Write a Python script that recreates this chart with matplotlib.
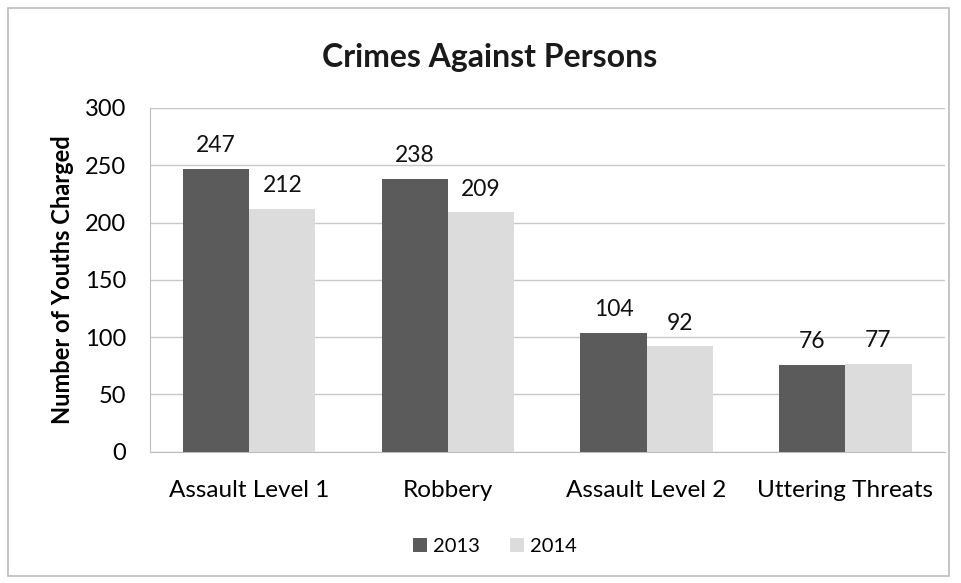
import matplotlib
matplotlib.use("Agg")
import matplotlib.pyplot as plt
import numpy as np
from matplotlib.patches import Rectangle

categories = ["Assault Level 1", "Robbery", "Assault Level 2", "Uttering Threats"]
series_names = ["2013", "2014"]
values_2013 = [247, 238, 104, 76]
values_2014 = [212, 209, 92, 77]
yticks = [0, 50, 100, 150, 200, 250, 300]

plt.rcParams['font.family'] = ['Lato', 'DejaVu Sans']

fig = plt.figure(figsize=(9.61, 5.83), dpi=100)
ax = fig.add_axes([0.156, 0.225, 0.827, 0.59])

x = np.arange(len(categories))
w = 1/3
c13 = "#5b5b5b"
c14 = "#dcdcdc"
b1 = ax.bar(x - w/2, values_2013, w, color=c13, label=series_names[0], zorder=3)
b2 = ax.bar(x + w/2, values_2014, w, color=c14, label=series_names[1], zorder=3)

for bars, vals in ((b1, values_2013), (b2, values_2014)):
    for r, v in zip(bars, vals):
        ax.annotate(str(v), (r.get_x() + r.get_width()/2, v), xytext=(0, 9),
                    textcoords='offset points', ha='center', va='bottom',
                    fontsize=16.5, color='#111111')

ax.set_xlim(-0.5, len(categories) - 0.5)
ax.set_ylim(0, 300)
ax.set_yticks(yticks)
ax.set_yticklabels([str(t) for t in yticks], fontsize=17)
ax.set_xticks(x)
ax.set_xticklabels(categories, fontsize=17.5)
ax.tick_params(axis='x', length=0, pad=20)
ax.tick_params(axis='y', length=0, pad=17)
ax.yaxis.grid(True, color='#c8c8c8', linewidth=1.0, zorder=0)
for s in ['top', 'right']:
    ax.spines[s].set_visible(False)
ax.spines['left'].set_color('#bdbdbd')
ax.spines['bottom'].set_color('#bdbdbd')
ax.set_ylabel("Number of Youths Charged", fontsize=17, fontweight='bold', labelpad=8)

fig.text(0.51, 0.902, "Crimes Against Persons", ha='center', va='center',
         fontsize=23, fontweight='bold', color='#1a1a1a')

leg = fig.legend(handles=[b1, b2], labels=series_names, loc='center',
                 bbox_to_anchor=(0.515, 0.062), ncol=2, frameon=False, fontsize=14.5,
                 handlelength=0.7, handleheight=0.7, handletextpad=0.3, columnspacing=1.5)

fig.patches.append(Rectangle((0.008, 0.012), 0.98, 0.975, transform=fig.transFigure,
                             fill=False, edgecolor='#bbbbbb', linewidth=1.2))

fig.savefig("out.png", dpi=100)
